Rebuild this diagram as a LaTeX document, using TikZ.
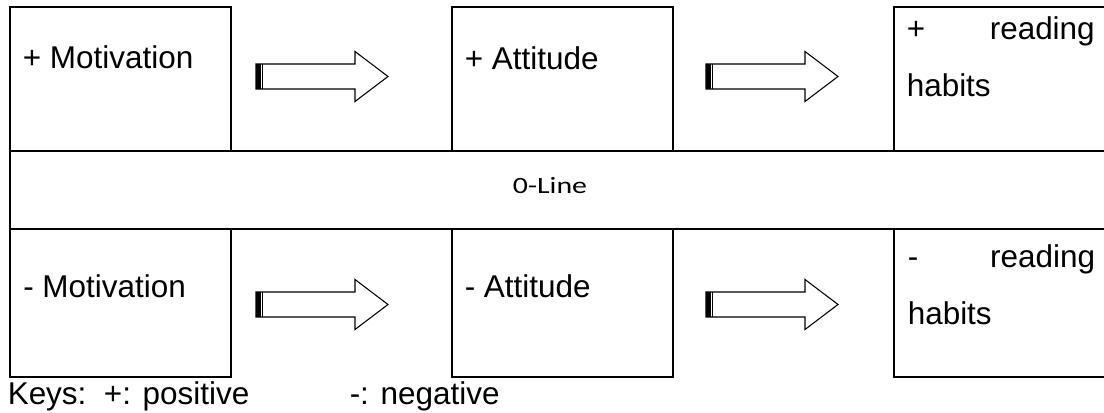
\documentclass[tikz,border=0pt]{standalone}
\usepackage{fontspec}
\usepackage{graphicx}
\setmainfont{Liberation Sans}
\newfontfamily\calfont{Carlito}
\tikzset{
  box/.style={draw, line width=1.4pt, inner sep=0pt, anchor=north west},
  txt/.style={inner sep=0pt, anchor=base west, align=left,
    font=\fontsize{23.6pt}{42.75pt}\selectfont},
  blockarr/.pic={
    \draw[line width=0.8pt, fill=white, line join=miter]
      (0,-12.5) -- (99,-12.5) -- (99,-25) -- (132,0) -- (99,25) -- (99,12.5) -- (0,12.5) -- cycle;
    \fill (0,-12.5) rectangle (4.7,12.5);
    \draw[line width=1pt] (6.8,-12.5) -- (6.8,12.5);
  }
}
\begin{document}
\begin{tikzpicture}[x=0.75pt,y=-0.75pt]
\useasboundingbox (0,0) rectangle (1104,413);
% top row boxes
\node[box, minimum width=165.75pt, minimum height=108pt] (pm) at (9,6) {};
\node[box, minimum width=165.75pt, minimum height=108pt] (pa) at (451,6) {};
\node[box, minimum width=172.5pt, minimum height=108pt] (pr) at (893,6) {};
% zero line band
\node[box, minimum width=834pt, minimum height=58.5pt] (zero) at (9,150) {};
% bottom row boxes
\node[box, minimum width=165.75pt, minimum height=111pt] (nm) at (9,228) {};
\node[box, minimum width=165.75pt, minimum height=111pt] (na) at (451,228) {};
\node[box, minimum width=172.5pt, minimum height=111pt] (nr) at (893,228) {};
% texts
\node[txt] (tpm) at (22.5,69) {+ Motivation};
\node[txt] (tpa) at (464.5,70) {+ Attitude};
\node[txt] (tpr) at (906.5,97) {\makebox[141pt][s]{+\hfill reading}\\habits};
\node[inner sep=0pt, anchor=base] (tz) at (550,194) {\calfont\fontsize{17.5pt}{20pt}\selectfont\scalebox{1.28}[1]{0-Line}};
\node[txt] (tnm) at (23,298) {- Motivation};
\node[txt] (tna) at (464.5,298) {- Attitude};
\node[txt] (tnr) at (907.5,325) {\makebox[140.5pt][s]{-\hfill reading}\\habits};
\node[txt] (keys) at (7.5,405) {Keys:\ \ +: positive};
\node[txt] (neg) at (349.5,405) {-: negative};
% block arrows
\pic at (256,76.5) {blockarr};
\pic at (706,76.5) {blockarr};
\pic at (256,304.5) {blockarr};
\pic at (706,304.5) {blockarr};
\end{tikzpicture}
\end{document}
